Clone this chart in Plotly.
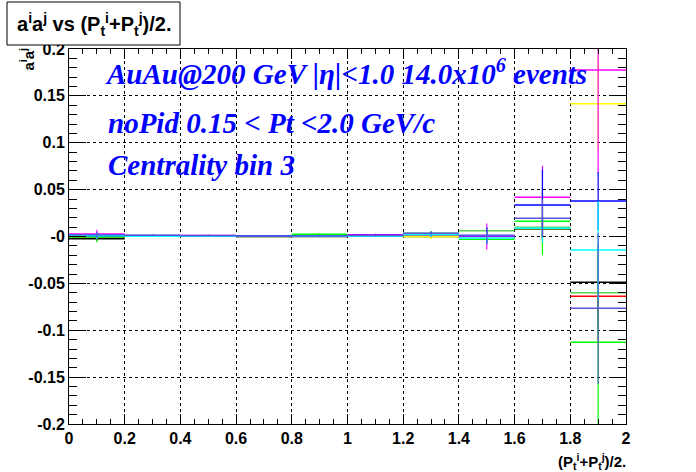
import plotly.graph_objects as go

# ---- data ----
bin_edges = [0.0, 0.2, 0.4, 0.6, 0.8, 1.0, 1.2, 1.4, 1.6, 1.8, 2.0]

black_vals = [-0.0025, 0.0003, 0.0002, 0.0, 0.0001, 0.0002, 0.0, 0.0005, 0.0079, -0.0487]
black_errs = [0.002, 0.0005, 0.0005, 0.0005, 0.0005, 0.0006, 0.001, 0.003, 0.010, 0.040]
red_vals = [-0.0005, 0.0005, 0.0003, 0.0, 0.0004, 0.0008, 0.001, 0.0004, 0.009, -0.0636]
red_errs = [0.002, 0.0005, 0.0005, 0.0005, 0.0005, 0.0006, 0.001, 0.003, 0.012, 0.050]
yellow_vals = [0.0, 0.0004, 0.0003, 0.0, 0.0002, 0.0003, -0.0003, 0.0003, 0.0085, 0.1417]
yellow_errs = [0.002, 0.0005, 0.0005, 0.0005, 0.0005, 0.0006, 0.0025, 0.004, 0.019, 0.050]
darkgreen_vals = [0.0004, 0.0008, 0.0005, 0.0003, 0.0006, 0.0009, 0.0036, 0.0061, 0.010, -0.0601]
darkgreen_errs = [0.002, 0.0006, 0.0005, 0.0005, 0.0005, 0.0006, 0.002, 0.004, 0.012, 0.050]
green_vals = [-0.0006, 0.0007, 0.0008, 0.0005, 0.0025, 0.0015, 0.0025, -0.0028, 0.0164, -0.1128]
green_errs = [0.0054, 0.001, 0.001, 0.001, 0.001, 0.001, 0.003, 0.006, 0.036, 0.100]
magenta_vals = [0.0026, 0.0005, 0.0012, 0.0005, 0.0008, 0.002, 0.0018, 0.0, 0.042, 0.1777]
magenta_errs = [0.0046, 0.0008, 0.0008, 0.0008, 0.0008, 0.001, 0.002, 0.0139, 0.0335, 0.110]
blue_vals = [0.0008, 0.0012, 0.0008, 0.0006, 0.0009, 0.0012, 0.0025, 0.001, 0.0335, 0.0378]
blue_errs = [0.003, 0.0008, 0.0008, 0.0008, 0.0008, 0.001, 0.002, 0.008, 0.038, 0.031]
cyan_vals = [0.0007, 0.0004, 0.0005, 0.0, 0.0002, 0.0004, 0.0018, -0.0017, 0.0088, -0.0145]
cyan_errs = [0.003, 0.0006, 0.0006, 0.0006, 0.0006, 0.0008, 0.002, 0.006, 0.0155, 0.0525]
mediumblue_vals = [0.0018, 0.0013, 0.001, 0.0004, 0.0006, 0.001, 0.0036, 0.0012, 0.0194, -0.0765]
mediumblue_errs = [0.003, 0.0008, 0.0008, 0.0008, 0.0008, 0.001, 0.002, 0.009, 0.020, 0.0805]

series = [
    ("black", "#000000", black_vals, black_errs),
    ("red", "#ff0000", red_vals, red_errs),
    ("yellow", "#ffff00", yellow_vals, yellow_errs),
    ("darkgreen", "#59d454", darkgreen_vals, darkgreen_errs),
    ("green", "#00ff00", green_vals, green_errs),
    ("magenta", "#ff00ff", magenta_vals, magenta_errs),
    ("blue", "#0000ff", blue_vals, blue_errs),
    ("cyan", "#00ffff", cyan_vals, cyan_errs),
    ("mediumblue", "#5954d9", mediumblue_vals, mediumblue_errs),
]

x_tickvals = [0, 0.2, 0.4, 0.6, 0.8, 1.0, 1.2, 1.4, 1.6, 1.8, 2.0]
x_ticktext = ["0", "0.2", "0.4", "0.6", "0.8", "1", "1.2", "1.4", "1.6", "1.8", "2"]
y_tickvals = [-0.2, -0.15, -0.1, -0.05, 0, 0.05, 0.1, 0.15, 0.2]
y_ticktext = ["-0.2", "-0.15", "-0.1", "-0.05", "-0", "0.05", "0.1", "0.15", "0.2"]

centers = [(a + b) / 2 for a, b in zip(bin_edges[:-1], bin_edges[1:])]
halfw = [(b - a) / 2 for a, b in zip(bin_edges[:-1], bin_edges[1:])]

fig = go.Figure()
for name, col, vals, errs in series:
    fig.add_trace(go.Scatter(
        x=centers, y=vals, mode="markers", name=name,
        marker=dict(size=1, color="rgba(0,0,0,0)"),
        error_x=dict(type="data", array=halfw, symmetric=True, color=col, thickness=1.5, width=0),
        error_y=dict(type="data", array=errs, symmetric=True, color=col, thickness=1.2, width=0),
        showlegend=False, hoverinfo="skip",
    ))

L, R, T, B = 69, 70, 49, 48
W, H = 696, 472
pw, ph = W - L - R, H - T - B

def px(xp):
    return (xp - L) / pw

def py(yp):
    return (H - B - yp) / ph

tickfont = dict(family="Liberation Sans", size=16, color="black", weight="bold")
axis_common = dict(
    showline=True, linecolor="black", linewidth=1, mirror="ticks",
    ticks="inside", tickcolor="black", tickwidth=1,
    showgrid=True, gridcolor="black", griddash="dot", gridwidth=1,
    zeroline=False, tickfont=tickfont,
)

fig.update_layout(
    width=W, height=H,
    margin=dict(l=L, r=R, t=T, b=B),
    paper_bgcolor="white", plot_bgcolor="white",
    xaxis=dict(range=[0, 2], tickvals=x_tickvals, ticktext=x_ticktext, ticklen=10,
               minor=dict(ticks="inside", ticklen=5, dtick=0.05, tickcolor="black", showgrid=False),
               **axis_common),
    yaxis=dict(range=[-0.2, 0.2], tickvals=y_tickvals, ticktext=y_ticktext, ticklen=17,
               minor=dict(ticks="inside", ticklen=8, dtick=0.01, tickcolor="black", showgrid=False),
               **axis_common),
)

serif = dict(family="Liberation Serif", size=29, color="#0000ff", weight="bold", style="italic")
annots = [
    dict(text="AuAu@200 GeV |η|<1.0 14.0x10<sup>6</sup> events", x=px(103), y=py(72), font=serif),
    dict(text="noPid 0.15 < Pt <2.0 GeV/c", x=px(106), y=py(123), font=serif),
    dict(text="Centrality bin 3", x=px(106), y=py(165), font=serif),
]
for a in annots:
    fig.add_annotation(xref="paper", yref="paper", xanchor="left", yanchor="middle",
                       showarrow=False, **a)

# title box
fig.add_shape(type="rect", xref="paper", yref="paper", x0=px(7), x1=px(180), y0=py(45), y1=py(2),
              line=dict(color="black", width=1), fillcolor="white", layer="above")
fig.add_annotation(xref="paper", yref="paper", x=px(93.5), y=py(24), xanchor="center", yanchor="middle",
                   text="a<sup>i</sup>a<sup>j</sup> vs (P<sub>t</sub><sup>i</sup>+P<sub>t</sub><sup>j</sup>)/2.",
                   showarrow=False,
                   font=dict(family="Liberation Sans", size=20, color="black", weight="bold"))

# y axis title
fig.add_annotation(xref="paper", yref="paper", x=px(27), y=py(46), xanchor="center", yanchor="top",
                   text="a<sup>i</sup>a<sup>j</sup>", textangle=-90, showarrow=False,
                   font=dict(family="Liberation Sans", size=15, color="black", weight="bold"))

# x axis title
fig.add_annotation(xref="paper", yref="paper", x=px(628), y=py(449), xanchor="right", yanchor="top",
                   text="(P<sub>t</sub><sup>i</sup>+P<sub>t</sub><sup>j</sup>)/2.", showarrow=False,
                   font=dict(family="Liberation Sans", size=15, color="black", weight="bold"))

fig.write_html("out.html", config={"displayModeBar": False},
               post_script="document.body.style.margin='0';")
